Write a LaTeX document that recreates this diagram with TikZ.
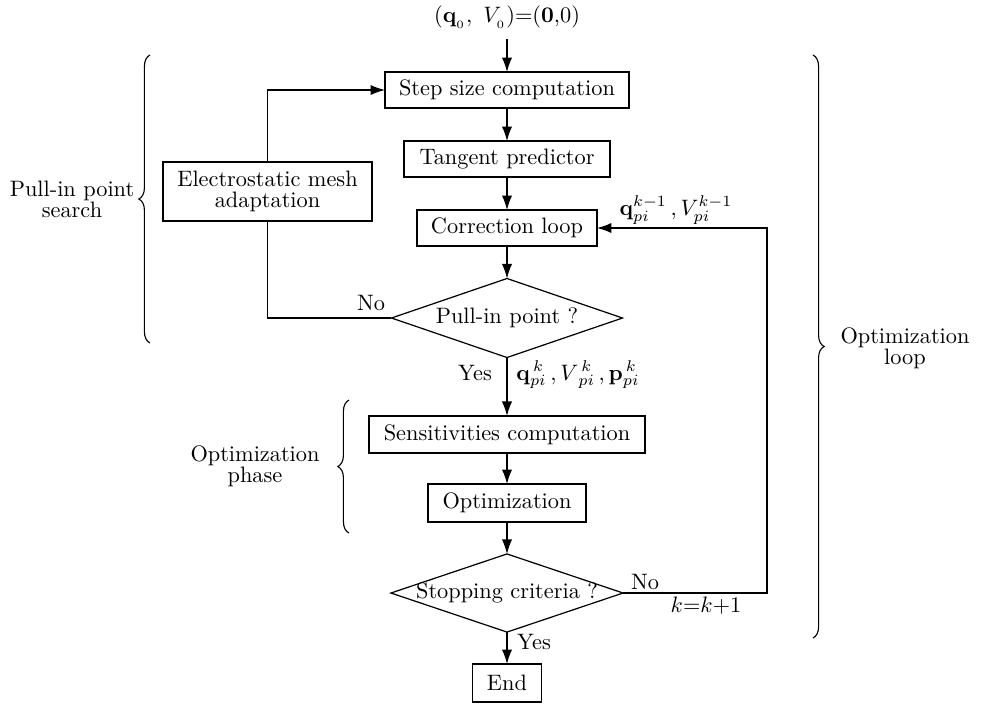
\documentclass[tikz,border=0pt]{standalone}
\usetikzlibrary{arrows.meta,shapes.geometric,decorations.pathreplacing}
\begin{document}
\begin{tikzpicture}[x=0.448pt,y=-0.448pt,
  every node/.style={outer sep=0pt},
  box/.style={draw,line width=0.55pt,inner sep=0pt,align=center},
  dia/.style={draw,diamond,line width=0.55pt,inner sep=0pt},
  lbl/.style={align=center,inner sep=0pt},
  arr/.style={line width=0.55pt,-{Latex[length=6.5pt,width=4.6pt]}},
  ln/.style={line width=0.55pt},
  brc/.style={line width=0.5pt,decorate,decoration={brace,amplitude=5pt}}]
\useasboundingbox (0,0) rectangle (982,703);
% nodes
\node[lbl] (start) at (507,17) {$(\mathbf{q}_{_0},\ V_{_0})$=$(\mathbf{0}$,$0)$};
\node[box,minimum width=109.3pt,minimum height=16.1pt] (step) at (507,90) {Step size computation};
\node[box,minimum width=92.3pt,minimum height=16.1pt] (tang) at (507,159) {Tangent predictor};
\node[box,minimum width=80.6pt,minimum height=16.1pt] (corr) at (507,228) {Correction loop};
\node[dia,minimum width=103.5pt,minimum height=35.4pt] (d1) at (507,318) {};
\node[lbl] (d1t) at (d1) {Pull-in point ?};
\node[box,minimum width=93.6pt,minimum height=26.4pt] (emesh) at (267.5,191.5) {Electrostatic mesh\\[-2.5pt]adaptation};
\node[box,minimum width=123.6pt,minimum height=16.6pt] (sens) at (507,434.5) {Sensitivities computation};
\node[box,minimum width=70.8pt,minimum height=17pt] (opt) at (507,503) {Optimization};
\node[dia,minimum width=104pt,minimum height=35pt] (d2) at (507,593) {};
\node[lbl] (d2t) at (d2) {Stopping criteria ?};
\node[box,minimum width=30.9pt,minimum height=17pt] (end) at (507,683) {End};
\coordinate (rloop) at (767,0);
% connectors
\draw[arr,shorten <=5pt] (start.south) -- (step.north);
\draw[arr] (step.south) -- (tang.north);
\draw[arr] (tang.south) -- (corr.north);
\draw[arr] (corr.south) -- (d1.north);
\draw[arr] (d1.south) -- (sens.north);
\draw[arr] (sens.south) -- (opt.north);
\draw[arr] (opt.south) -- (d2.north);
\draw[arr] (d2.south) -- (end.north);
\draw[ln] (d1.west) -| (emesh.south);
\draw[arr] (emesh.north) |- (step.west);
\draw[arr] (d2.east) -- (d2.east -| rloop) -- (corr.east -| rloop) -- (corr.east);
% labels
\node[lbl] (no1) at (371,303) {No};
\node[lbl] (yes1) at (475,373) {Yes};
\node[lbl] (qk) at (578,375) {$\mathbf{q}^{\,k}_{pi}\,,V^{\,k}_{\;pi}\,,\mathbf{p}^{\,k}_{pi}$};
\node[lbl] (qk1) at (676,210) {$\mathbf{q}^{k-1}_{pi}\,,V^{k-1}_{pi}$};
\node[lbl] (no2) at (645,582) {No};
\node[lbl] (kk) at (706,606) {$k$=$k$+1};
\node[lbl] (yes2) at (534,642) {Yes};
% braces
\draw[brc] (150,343) -- (150,55);
\node[lbl] (pips) at (72,199) {Pull-in point\\[-2.5pt]search};
\draw[brc] (813,55) -- (813,638);
\node[lbl] (optl) at (905,348) {Optimization\\[-2.5pt]loop};
\draw[brc] (349,533) -- (349,400);
\node[lbl] (optp) at (255,466) {Optimization\\[-2.5pt]phase};
\end{tikzpicture}
\end{document}
